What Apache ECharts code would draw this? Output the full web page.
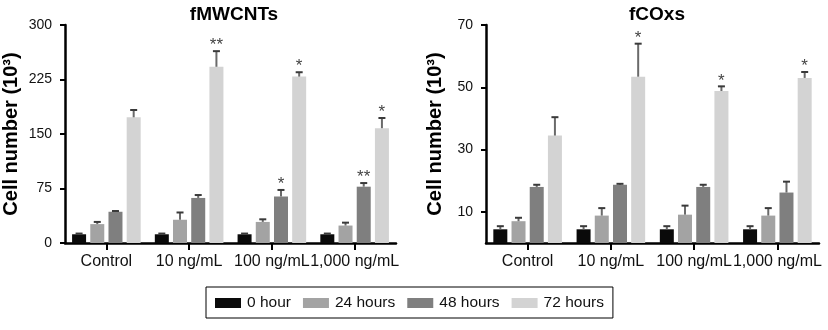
<!DOCTYPE html>
<html>
<head>
<meta charset="utf-8">
<script src="https://cdn.jsdelivr.net/npm/echarts@6/dist/echarts.min.js"></script>
<style>
  html, body { margin: 0; padding: 0; background: #fff; }
  #chart { width: 828px; height: 330px; }
</style>
</head>
<body>
<div id="chart"></div>
<script>
const categories = ['Control', '10 ng/mL', '100 ng/mL', '1,000 ng/mL'];
const seriesNames = ['0 hour', '24 hours', '48 hours', '72 hours'];
const colors = ['#0a0a0a', '#a3a3a3', '#7f7f7f', '#d3d3d3'];

// fMWCNTs: mean values per time point (rows) x concentration (cols)
const mwcntMean = [
  [12, 12, 12, 12],
  [26, 32, 29, 24],
  [43, 62, 64, 77.5],
  [173, 242.5, 229, 158]
];
// upper error bar end
const mwcntErr = [
  [13, 13, 13, 13],
  [29, 42, 32.6, 28],
  [44, 66, 73, 82.5],
  [183, 264, 235, 172]
];
const mwcntSig = [
  ['', '', '', ''],
  ['', '', '', ''],
  ['', '', '*', '**'],
  ['', '**', '*', '*']
];

// fCOxs
const coxMean = [
  [4.4, 4.4, 4.4, 4.4],
  [7.0, 8.8, 9.1, 8.8],
  [18.0, 18.7, 18.0, 16.2],
  [34.5, 53.4, 48.8, 53.0]
];
const coxErr = [
  [5.4, 5.4, 5.4, 5.4],
  [8.1, 11.2, 12.0, 11.2],
  [18.7, 19.0, 18.7, 19.7],
  [40.4, 64.0, 50.3, 54.9]
];
const coxSig = [
  ['', '', '', ''],
  ['', '', '', ''],
  ['', '', '', ''],
  ['', '*', '*', '*']
];

const leftTicks = [0, 75, 150, 225, 300];
const rightTicks = [10, 30, 50, 70];

const chart = echarts.init(document.getElementById('chart'));
const font = '"Liberation Sans", Arial, Helvetica, sans-serif';
const barWidth = 14;
const pitch = 18.2;

function errorSeries(idx, axisIdx, mean, err, sig) {
  const off = (idx - 1.5) * pitch;
  return {
    type: 'custom',
    xAxisIndex: axisIdx,
    yAxisIndex: axisIdx,
    z: 5,
    silent: true,
    data: categories.map((c, i) => [i, mean[idx][i], err[idx][i]]),
    renderItem: (params, api) => {
      const p0 = api.coord([api.value(0), api.value(1)]);
      const p1 = api.coord([api.value(0), api.value(2)]);
      const x = p0[0] + off;
      const s = sig[idx][params.dataIndex];
      const children = [
        {
          type: 'line',
          shape: { x1: x, y1: p0[1], x2: x, y2: p1[1] },
          style: { stroke: '#6a6a6a', lineWidth: 2 }
        },
        {
          type: 'line',
          shape: { x1: x - 3.5, y1: p1[1], x2: x + 3.5, y2: p1[1] },
          style: { stroke: '#3a3a3a', lineWidth: 2 }
        }
      ];
      if (s) {
        children.push({
          type: 'text',
          style: {
            text: s, x: x, y: p1[1] + 3,
            align: 'center', verticalAlign: 'bottom',
            fill: '#444', font: '17px ' + font
          }
        });
      }
      return { type: 'group', children: children };
    }
  };
}

const series = [];
seriesNames.forEach((name, k) => {
  series.push({
    name: name, type: 'bar', xAxisIndex: 0, yAxisIndex: 0,
    barWidth: barWidth, barGap: '30%',
    itemStyle: { color: colors[k] },
    data: mwcntMean[k]
  });
  series.push({
    name: name, type: 'bar', xAxisIndex: 1, yAxisIndex: 1,
    barWidth: barWidth, barGap: '30%',
    itemStyle: { color: colors[k] },
    data: coxMean[k]
  });
});
seriesNames.forEach((name, k) => {
  series.push(errorSeries(k, 0, mwcntMean, mwcntErr, mwcntSig));
  series.push(errorSeries(k, 1, coxMean, coxErr, coxSig));
});

const axisLine = { show: true, onZero: false, lineStyle: { color: '#000', width: 2.5 } };

function xAxis(gridIndex) {
  return {
    type: 'category',
    gridIndex: gridIndex,
    data: categories,
    axisLine: axisLine,
    axisTick: { show: true, alignWithLabel: true, length: 7, lineStyle: { color: '#000', width: 2 } },
    axisLabel: { color: '#111', fontSize: 16, fontFamily: font, margin: 11, interval: 0 },
    splitLine: { show: false }
  };
}

function yAxis(gridIndex, max, ticks, gap) {
  return {
    type: 'value',
    gridIndex: gridIndex,
    min: 0,
    max: max,
    name: 'Cell number (10³)',
    nameLocation: 'middle',
    nameGap: gap,
    nameTextStyle: { color: '#000', fontSize: 20, fontWeight: 'bold', fontFamily: font },
    axisLine: axisLine,
    axisTick: { show: true, length: 5, customValues: ticks, lineStyle: { color: '#000', width: 2 } },
    axisLabel: { color: '#111', fontSize: 14, fontFamily: font, margin: 13, customValues: ticks },
    splitLine: { show: false }
  };
}

const option = {
  backgroundColor: '#fff',
  animation: false,
  title: [
    { text: 'fMWCNTs', left: 229, top: 0, textAlign: 'center',
      textStyle: { fontSize: 19, fontWeight: 'bold', fontFamily: font, color: '#000' } },
    { text: 'fCOxs', left: 652, top: 0, textAlign: 'center',
      textStyle: { fontSize: 19, fontWeight: 'bold', fontFamily: font, color: '#000' } }
  ],
  legend: {
    data: seriesNames,
    left: 206,
    top: 287,
    padding: [8, 9, 7, 9],
    itemGap: 12,
    itemWidth: 26,
    itemHeight: 10,
    icon: 'rect',
    borderColor: '#000',
    borderWidth: 1,
    textStyle: { color: '#111', fontSize: 15.5, fontFamily: font, padding: [0, 0, 0, 1] }
  },
  grid: [
    { left: 63, top: 25, width: 333, height: 218 },
    { left: 486, top: 25, width: 333, height: 218 }
  ],
  xAxis: [xAxis(0), xAxis(1)],
  yAxis: [yAxis(0, 300, leftTicks, 44), yAxis(1, 70, rightTicks, 41)],
  series: series
};

chart.setOption(option);
</script>
</body>
</html>
